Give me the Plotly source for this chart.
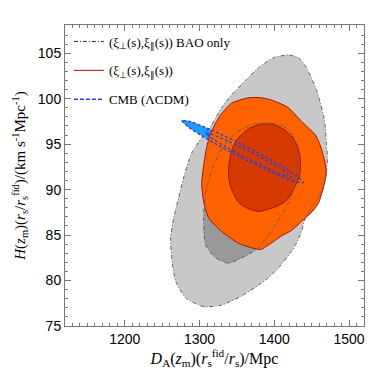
import plotly.graph_objects as go

# contour outlines (D_A in Mpc, H in km/s/Mpc)
bao2_x = [1418.9, 1432.3, 1441.6, 1449.6, 1456.3, 1461.7, 1465.7, 1468.3, 1469.7, 1471.0,
          1469.7, 1464.3, 1452.3, 1441.6, 1436.3, 1429.6, 1422.9, 1405.6, 1392.2, 1378.9,
          1356.2, 1329.5, 1308.1, 1298.8, 1281.4, 1268.1, 1262.7, 1261.4, 1265.4, 1272.1,
          1278.7, 1289.4, 1302.8, 1316.1, 1329.5, 1342.8, 1361.5, 1378.9, 1398.9]
bao2_y = [104.8, 104.5, 103.6, 102.3, 101.0, 99.5, 98.2, 96.8, 95.1, 93.5,
          91.8, 90.0, 88.3, 86.9, 85.4, 84.1, 83.2, 81.4, 80.3, 79.5,
          78.3, 77.3, 77.1, 77.3, 78.1, 79.9, 82.5, 84.7, 86.9, 89.1,
          91.3, 94.0, 95.7, 97.1, 99.0, 100.4, 102.0, 103.4, 104.5]

bao1_x = [1394.9, 1412.3, 1424.3, 1429.6, 1430.9, 1428.3, 1418.9, 1398.9, 1378.9, 1361.5,
          1338.8, 1321.5, 1308.1, 1305.4, 1308.1, 1317.5, 1330.8, 1349.5, 1372.2]
bao1_y = [97.3, 97.0, 96.0, 94.6, 92.9, 90.7, 88.5, 85.8, 83.6, 82.7,
          81.9, 82.5, 83.9, 86.9, 89.6, 92.4, 94.6, 96.3, 97.2]

full2_x = [1314.8, 1321.5, 1328.1, 1342.8, 1365.5, 1382.9, 1401.6, 1418.9, 1436.3, 1455.0,
           1461.7, 1467.0, 1469.7, 1465.7, 1459.0, 1451.0, 1436.3, 1422.9, 1409.6, 1392.2,
           1381.6, 1369.5, 1352.2, 1329.5, 1312.1, 1305.4, 1302.8, 1305.4, 1309.4]
full2_y = [96.2, 97.3, 98.2, 99.5, 100.1, 100.1, 99.7, 99.0, 97.5, 96.0,
           94.8, 93.3, 91.8, 90.2, 88.5, 87.6, 86.5, 85.5, 84.9, 83.9,
           83.4, 83.6, 84.1, 85.4, 86.9, 88.7, 90.7, 92.6, 94.6]

full1_x = [1382.9, 1396.2, 1409.6, 1422.9, 1430.9, 1435.0, 1433.6, 1425.6, 1416.3, 1401.6,
           1378.9, 1365.5, 1352.2, 1342.8, 1338.8, 1340.2, 1344.2, 1352.2, 1365.5]
full1_y = [97.2, 97.2, 96.8, 95.9, 94.8, 93.3, 91.5, 90.0, 88.8, 88.1,
           87.6, 87.9, 88.6, 90.0, 91.5, 93.3, 94.6, 95.7, 96.7]

cmb2_x = [1439.0, 1426.3, 1395.2, 1353.9, 1313.6, 1285.2, 1276.1, 1288.8, 1319.9, 1361.1,
          1401.4, 1429.9]
cmb2_y = [90.76, 90.93, 91.96, 93.59, 95.39, 96.86, 97.61, 97.45, 96.41, 94.77,
          92.99, 91.51]

cmb1_x = [1422.7, 1413.9, 1392.2, 1363.4, 1335.1, 1315.1, 1308.4, 1317.2, 1338.8, 1367.7,
          1396.0, 1416.0]
cmb1_y = [91.40, 91.55, 92.30, 93.46, 94.70, 95.71, 96.20, 96.05, 95.30, 94.14,
          92.90, 91.90]

x_ticks = [1200, 1300, 1400, 1500]
y_ticks = [75, 80, 85, 90, 95, 100, 105]

legend_names = ['(ξ<sub>⊥</sub>(s),ξ<sub>∥</sub>(s)) BAO only',
                '(ξ<sub>⊥</sub>(s),ξ<sub>∥</sub>(s))',
                'CMB (ΛCDM)']

GRAY_LINE = 'rgb(95,95,95)'
RED_LINE = 'rgb(165,20,10)'
BLUE_LINE = 'rgb(45,65,200)'
DASHDOT = '4px,2px,1px,2px'
SHORTDASH = '3px,2px'


def closed(a):
    return list(a) + [a[0]]


def fill(x, y, color, line=None):
    return go.Scatter(x=closed(x), y=closed(y), mode='lines', fill='toself',
                      fillcolor=color, line=dict(color=line or color, width=1 if line else 0,
                                                 shape='spline', smoothing=0.6),
                      hoverinfo='skip', showlegend=False)


def outline(x, y, color, dash, width=1.0):
    return go.Scatter(x=closed(x), y=closed(y), mode='lines',
                      line=dict(color=color, dash=dash, width=width, shape='spline', smoothing=0.6),
                      hoverinfo='skip', showlegend=False)


fig = go.Figure()
# fills, back to front
fig.add_trace(fill(bao2_x, bao2_y, 'rgb(200,200,200)'))
fig.add_trace(fill(bao1_x, bao1_y, 'rgb(153,153,153)'))
fig.add_trace(fill(cmb2_x, cmb2_y, 'rgb(30,155,255)'))
fig.add_trace(fill(cmb1_x, cmb1_y, 'rgb(15,110,235)'))
fig.add_trace(fill(full2_x, full2_y, 'rgb(255,98,0)', RED_LINE))
fig.add_trace(fill(full1_x, full1_y, 'rgb(215,58,0)', RED_LINE))
# outlines on top
fig.add_trace(outline(bao2_x, bao2_y, GRAY_LINE, DASHDOT))
fig.add_trace(outline(bao1_x, bao1_y, GRAY_LINE, DASHDOT))
fig.add_trace(outline(cmb2_x, cmb2_y, BLUE_LINE, SHORTDASH, 1.3))
fig.add_trace(outline(cmb1_x, cmb1_y, BLUE_LINE, SHORTDASH, 1.3))

# legend entries
for i, (name, col, dash) in enumerate(zip(legend_names,
                                           ['rgb(40,40,40)', RED_LINE, BLUE_LINE],
                                           [DASHDOT, 'solid', '4px,2px'])):
    fig.add_trace(go.Scatter(x=[None], y=[None], mode='lines', name=name,
                             legendgroup=str(i),
                             line=dict(color=col, dash=dash, width=1.5 if i == 2 else 1)))

axis_common = dict(showgrid=False, zeroline=False, showline=True, linecolor='rgb(120,120,120)',
                   linewidth=1, mirror='allticks', ticks='inside', ticklen=6,
                   tickcolor='rgb(120,120,120)',
                   tickfont=dict(family='Liberation Sans, Arial', size=14, color='black'))

fig.update_xaxes(range=[1120, 1520], tickvals=x_ticks,
                 minor=dict(dtick=10, ticklen=3, ticks='inside', tickcolor='rgb(120,120,120)'),
                 title=dict(text='<i>D</i><sub>A</sub>(<i>z</i><sub>m</sub>)(<i>r</i><sub>s</sub>'
                                 '<sup>fid</sup>/<i>r</i><sub>s</sub>)/Mpc',
                            font=dict(family='Liberation Serif, Times New Roman', size=16,
                                      color='black'), standoff=4),
                 **axis_common)
fig.update_yaxes(range=[75, 108.1], tickvals=y_ticks,
                 minor=dict(dtick=1, ticklen=3, ticks='inside', tickcolor='rgb(120,120,120)'),
                 title=dict(text='<i>H</i>(<i>z</i><sub>m</sub>)(<i>r</i><sub>s</sub>/<i>r</i>'
                                 '<sub>s</sub><sup>fid</sup>)/(km s<sup>-1</sup>Mpc<sup>-1</sup>)',
                            font=dict(family='Liberation Serif, Times New Roman', size=15,
                                      color='black'), standoff=8),
                 **axis_common)

fig.update_layout(
    width=374, height=374,
    margin=dict(l=57, r=18, t=17, b=56),
    plot_bgcolor='white', paper_bgcolor='white',
    legend=dict(x=0.013, y=0.995, xanchor='left', yanchor='top', bgcolor='rgba(0,0,0,0)',
                font=dict(family='Liberation Serif, Times New Roman', size=13, color='black'),
                itemwidth=30, tracegroupgap=9),
)

fig.write_html("out.html")
